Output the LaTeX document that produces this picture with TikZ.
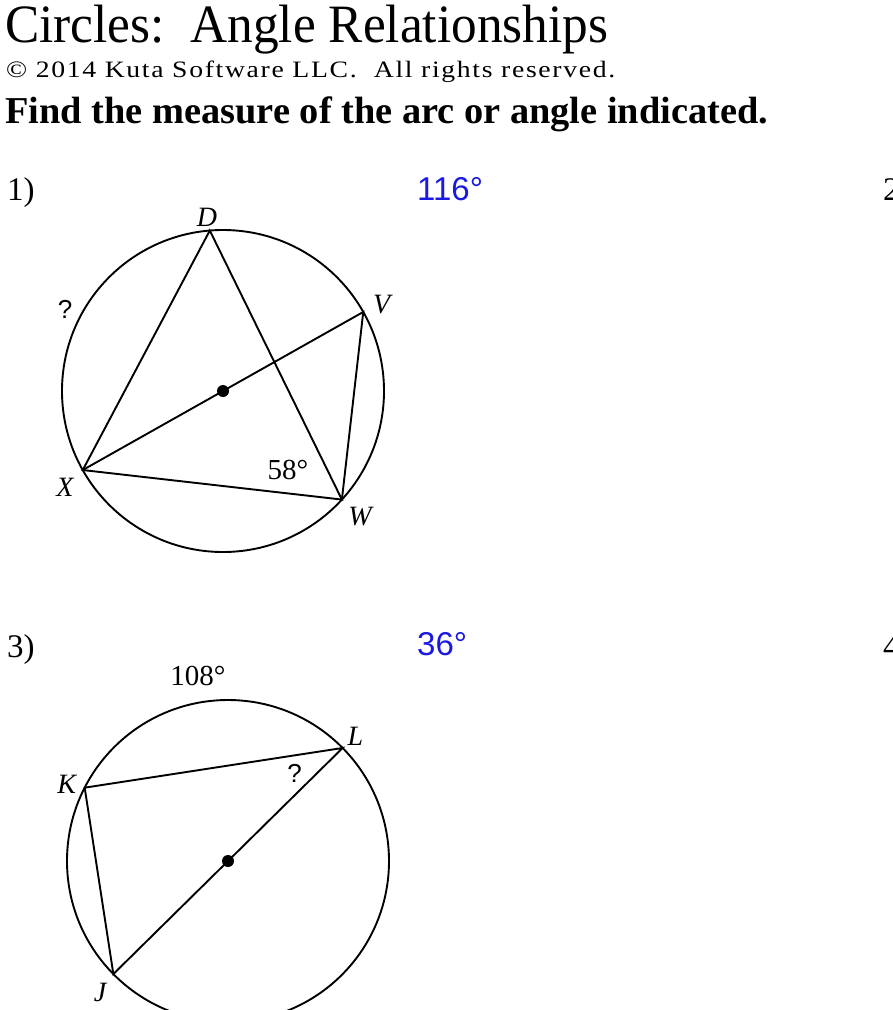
\documentclass[tikz,border=0pt]{standalone}
\usepackage{fontspec}
\usepackage{graphicx}
\setmainfont{Liberation Serif}
\newfontfamily\answerfont{Liberation Sans}
\newfontfamily\spacedfont[LetterSpace=6]{Liberation Serif}
\definecolor{answerblue}{RGB}{25,25,225}

\tikzset{
  rim/.style={line width=1.9pt},
  chord/.style={line width=1.9pt},
  ptlabel/.style={inner sep=0, font=\fontsize{28}{28}\selectfont\itshape},
  deglabel/.style={inner sep=0, font=\fontsize{29}{29}\selectfont},
  qmark/.style={inner sep=0, font=\answerfont\fontsize{26}{26}\selectfont},
  answer/.style={anchor=base west, inner sep=0, text=answerblue, font=\answerfont\fontsize{33}{33}\selectfont},
  probnum/.style={anchor=base west, inner sep=0, font=\fontsize{33}{33}\selectfont},
  centerdot/.style={circle, fill=black, inner sep=0, minimum size=12pt}
}

\begin{document}
\begin{tikzpicture}[x=1pt,y=1pt]

\useasboundingbox (0,0) rectangle (893,-1010); % page
\clip (0,0) rectangle (893,-1010);

% Heading
\node[anchor=base west, inner sep=0] (title) at (5,-42)
  {\fontsize{54}{60}\selectfont\resizebox{603pt}{\height}{Circles:\ \ Angle Relationships}};
\node[anchor=base west, inner sep=0] (copy) at (6,-77)
  {\spacedfont\fontsize{23.5}{24}\selectfont\resizebox{609pt}{\height}{© 2014 Kuta Software LLC.\ \ All rights reserved.}};
\node[anchor=base west, inner sep=0] (task) at (5,-123)
  {\fontsize{38}{40}\selectfont\bfseries\resizebox{763pt}{\height}{Find the measure of the arc or angle indicated.}};

% Problem numbers and answers
\node[probnum] (n1) at (7,-200) {1)};
\node[probnum] (n2) at (883,-200) {2)};
\node[probnum] (n3) at (7,-657) {3)};
\node[probnum] (n4) at (883,-657) {4)};
\node[answer] (a1) at (417,-200.7) {116°};
\node[answer] (a3) at (417,-655) {36°};

% Problem 1
\coordinate (O1) at (223,-391);
\draw[rim] (O1) circle (161);
\coordinate (D) at ([shift={(94.7:161)}]O1);
\coordinate (V) at ([shift={(29.4:161)}]O1);
\coordinate (W) at ([shift={(-42.4:161)}]O1);
\coordinate (X) at ([shift={(209.4:161)}]O1);
\draw[chord] (X) -- (D) -- (W) -- cycle;
\draw[chord] (X) -- (V) -- (W);
\node[centerdot] (dot1) at (O1) {};

\node[ptlabel] (lD) at (207,-217) {D};
\node[ptlabel] (lV) at (381.7,-304.5) {V};
\node[ptlabel] (lW) at (360,-516.5) {W};
\node[ptlabel] (lX) at (65,-487.5) {X};
\node[qmark] (q1) at (65,-309) {?};
\node[deglabel] (g1) at (288,-470) {58°};

% Problem 3
\coordinate (O3) at (228,-861);
\draw[rim] (O3) circle (161);
\coordinate (L) at ([shift={(44.6:161)}]O3);
\coordinate (J) at ([shift={(224.6:161)}]O3);
\coordinate (K) at ([shift={(152.9:161)}]O3);
\draw[chord] (K) -- (L) -- (J) -- cycle;
\node[centerdot] (dot3) at (O3) {};

\node[ptlabel] (lL) at (355.5,-736) {L};
\node[ptlabel] (lK) at (66.7,-784) {K};
\node[ptlabel] (lJ) at (100,-992) {J};
\node[qmark] (q3) at (294.5,-773.5) {?};
\node[deglabel] (g3) at (198,-675.5) {108°};

\end{tikzpicture}
\end{document}
